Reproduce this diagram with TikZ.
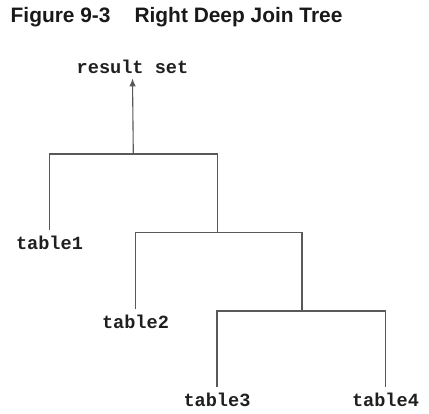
\documentclass[tikz,border=0pt]{standalone}
\usepackage{fontspec}
\setmainfont{Liberation Sans}
\newfontfamily\codefont{Liberation Mono}
\usetikzlibrary{arrows.meta}
\begin{document}
\begin{tikzpicture}[x=1pt,y=-1pt,
  ttl/.style={anchor=base west,inner sep=0pt,font=\fontsize{20.9}{24}\selectfont\bfseries,text=black!90},
  lbl/.style={anchor=base,inner sep=6pt,font=\fontsize{18.6}{20}\codefont\bfseries,text=black!88},
  ln/.style={draw=black!65,line width=1.1pt},
  arr/.style={ln,-{Latex[length=8pt,width=6.5pt]}}]
\useasboundingbox (0,0) rectangle (429,414);
\node[ttl] (title) at (10.5,22.3) {Figure 9-3\hspace{24pt}Right Deep Join Tree};
\node[lbl,inner sep=4pt] (res) at (132.5,74) {result set};
\node[lbl] (t1) at (49.5,250) {table1};
\node[lbl] (t2) at (135.5,329) {table2};
\node[lbl] (t3) at (217,406.5) {table3};
\node[lbl] (t4) at (385.5,406.5) {table4};
\coordinate (j1) at (133.3,154);
\coordinate (j2) at (217.3,232.7);
\coordinate (j3) at (302,311);
\draw[arr] (j1) -- (res.south);
\draw[ln] (j1) -| (t1.north);
\draw[ln] (j1) -| (j2);
\draw[ln] (j2) -| (t2.north);
\draw[ln] (j2) -| (j3);
\draw[ln] (j3) -| (t3.north);
\draw[ln] (j3) -| (t4.north);
\end{tikzpicture}
\end{document}
